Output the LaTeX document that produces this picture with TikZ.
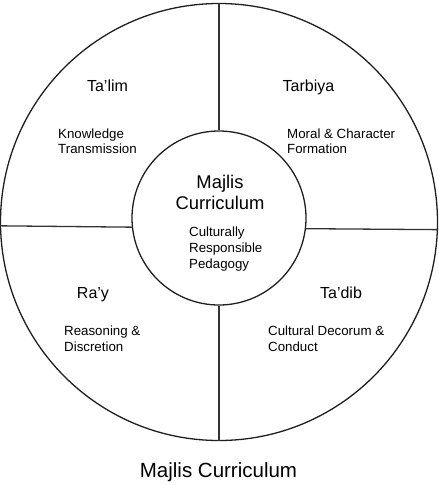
\documentclass[tikz,border=0pt]{standalone}
\usepackage{fontspec}
\setmainfont{Liberation Sans}
\begin{document}
\begin{tikzpicture}[x=1pt,y=-1pt,
  ring/.style={circle,draw=black!88,line width=1.3pt,inner sep=0pt},
  divider/.style={draw=black!80,line width=1.3pt},
  head/.style={inner sep=0pt,anchor=base,font=\fontsize{16}{19}\selectfont},
  desc/.style={inner sep=0pt,anchor=base west,align=left,font=\fontsize{13.3}{15.5}\selectfont},
  hubdesc/.style={inner sep=0pt,anchor=base west,align=left,font=\fontsize{13.3}{16}\selectfont},
  hub/.style={inner sep=0pt,anchor=base,align=center,font=\fontsize{18.4}{21}\selectfont},
  caption/.style={inner sep=0pt,anchor=base,font=\fontsize{20.5}{24}\selectfont}]
\useasboundingbox (0,0) rectangle (439,485);
\node[ring,minimum size=437pt] (outer) at (219,222) {};
\node[ring,minimum size=174pt] (inner) at (219,218) {};
% dividers
\draw[divider] (inner.north) -- (outer.north);
\draw[divider] (inner.south) -- (outer.south);
\draw[divider] (inner.186.6) -- (outer.181.6);
\draw[divider] (inner.353.4) -- (outer.358.4);
% hub text (base anchor = baseline of last line)
\node[hub] (hubtitle) at (220,209) {Majlis\\Curriculum};
\node[hubdesc] (hubtext) at (189,268) {Culturally\\Responsible\\Pedagogy};
% quadrants
\node[head] (talim) at (107.5,91) {Ta’lim};
\node[desc] (talimd) at (58,153.5) {Knowledge\\Transmission};
\node[head] (tarbiya) at (308.5,91) {Tarbiya};
\node[desc] (tarbiyad) at (287,153.5) {Moral \& Character\\Formation};
\node[head] (ray) at (93,298) {Ra’y};
\node[desc] (rayd) at (64,351) {Reasoning \&\\Discretion};
\node[head] (tadib) at (341,298) {Ta’dib};
\node[desc] (tadibd) at (268,351) {Cultural Decorum \&\\Conduct};
% caption
\node[caption] (title) at (218.5,477) {Majlis Curriculum};
\end{tikzpicture}
\end{document}
